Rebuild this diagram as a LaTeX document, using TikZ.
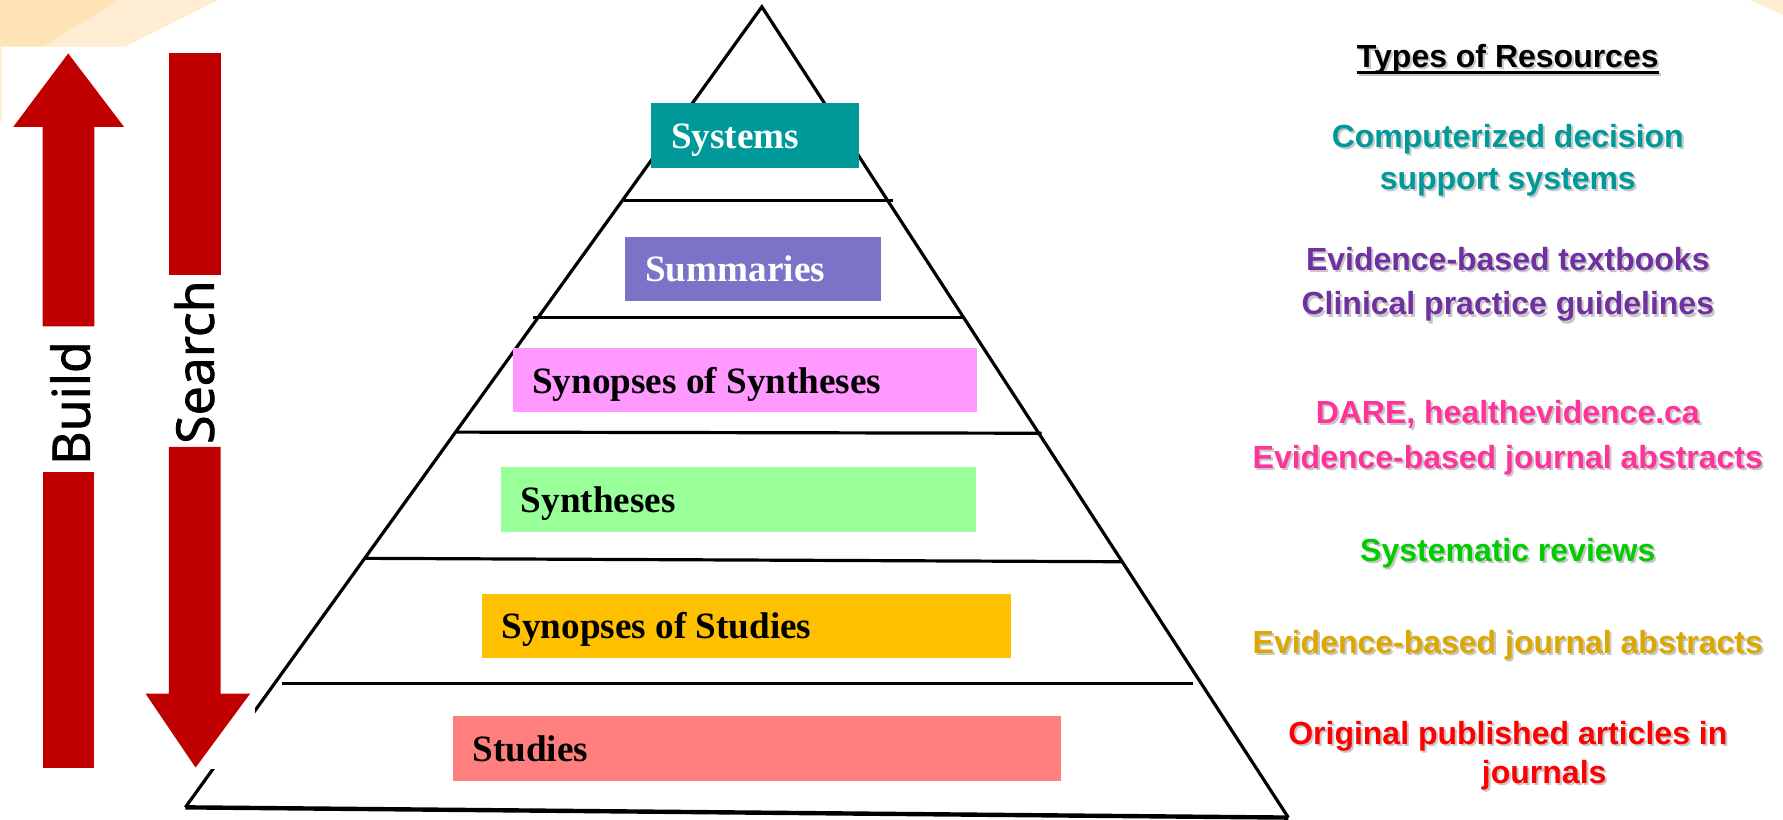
\documentclass[tikz,border=0pt]{standalone}
\usepackage{fontspec}
\setmainfont{Liberation Serif}
\newfontfamily\arialfont{Liberation Sans}
\newfontfamily\opensans[BoldFont={Open Sans}, BoldFeatures={FakeBold=1.6}]{Open Sans}
\usetikzlibrary{calc}
\definecolor{arrowred}{HTML}{C00000}
\definecolor{tabdark}{HTML}{FDE3B5}
\definecolor{tablight}{HTML}{FEEDD3}
\definecolor{syscol}{HTML}{009999}
\definecolor{summcol}{HTML}{7B73C8}
\definecolor{synsyncol}{HTML}{FF99FF}
\definecolor{synthcol}{HTML}{99FF99}
\definecolor{synstudcol}{HTML}{FFC000}
\definecolor{studcol}{HTML}{FF7F7F}
\definecolor{respurple}{HTML}{7030A0}
\definecolor{respink}{HTML}{FF3399}
\definecolor{resgreen}{HTML}{00CC00}
\definecolor{resgold}{HTML}{DCA800}
\newcommand{\reslabel}[5]{%
	\node[res, text=black!22] (#1s) at ({#2+1.8},{#3+1.8}) {#5};
	\node[res, text=#4] (#1) at (#2,#3) {#5};
}
\begin{document}
\begin{tikzpicture}[x=0.01cm, y=-0.01cm, thick,
		tier/.style={anchor=north west, inner sep=0, outer sep=0, minimum height=0.565cm},
		tiertext/.style={anchor=base west, inner sep=0, outer sep=0, font=\bfseries\fontsize{9.3}{11}\selectfont},
		res/.style={anchor=base, inner sep=0, outer sep=0, font=\arialfont\bfseries\fontsize{8}{9.6}\selectfont},
		arrowword/.style={rotate=90, anchor=base, inner sep=0, outer sep=0, font=\opensans\bfseries\fontsize{13}{15}\selectfont},
		redarrow/.style={fill=arrowred, draw=none}
		]
	\path[fill=white] (0,0) rectangle (1568,721);
	\fill[tabdark] (0,0) -- (105.5,0) -- (38,41) -- (0,41) -- cycle;
	\fill[tablight] (38,41) -- (110,41) -- (192,0) -- (105.5,0) -- cycle;
	\fill[tablight] (0,41) rectangle (1.8,106);
	\fill[tablight] (1539,0) -- (1568,0) -- (1568,13) -- cycle;

	\coordinate (apex) at (670,6);
	\coordinate (bl) at (163,710);
	\coordinate (br) at (1133,719);
	\draw (bl) -- (apex) -- (br);
	\draw[line width=1.1pt] (bl) -- (br);
	\draw (549,176) -- (785,176);
	\draw (469,279) -- (847,279);
	\draw (401,380) -- (916,381);
	\draw (320,491) -- (987,494);
	\draw (248,601) -- (1049,601);

	\node[tier, fill=syscol, minimum width=1.829cm] (sys) at (572.6,91) {};
	\node[tier, fill=summcol, minimum width=2.25cm] (summ) at (550,208) {};
	\node[tier, fill=synsyncol, minimum width=4.08cm] (synsyn) at (451,306) {};
	\node[tier, fill=synthcol, minimum width=4.17cm] (synth) at (441,411) {};
	\node[tier, fill=synstudcol, minimum width=4.65cm] (synstud) at (424,522) {};
	\node[tier, fill=studcol, minimum width=5.35cm] (stud) at (398,630) {};
	\node[tiertext, text=white] (syst) at ($(sys.west)+(17.5,11.5)$) {Systems};
	\node[tiertext, text=white] (summt) at ($(summ.west)+(17.5,11.5)$) {Summaries};
	\node[tiertext] (synsynt) at ($(synsyn.west)+(17,11.5)$) {Synopses of Syntheses};
	\node[tiertext] (syntht) at ($(synth.west)+(17,11.5)$) {Syntheses};
	\node[tiertext] (synstudt) at ($(synstud.west)+(17,11.5)$) {Synopses of Studies};
	\node[tiertext] (studt) at ($(stud.west)+(17.5,11.5)$) {Studies};

	\fill[white] (125,44) rectangle (224,676);
	\fill[redarrow] (37.5,287) -- (37.5,111.5) -- (11.7,111.5) -- (60,47) -- (109,111.5) -- (83,111.5) -- (83,287) -- cycle;
	\fill[redarrow] (37.5,415) rectangle (83,675);
	\node[arrowword] (build) at (79,354.5) {Build};
	\fill[redarrow] (148.6,47) rectangle (194,242);
	\fill[redarrow] (148.6,393) -- (148.6,610) -- (128,610) -- (172,675) -- (220,610) -- (194,610) -- (194,393) -- cycle;
	\node[arrowword] (search) at (188,318.5) {Search};

	\reslabel{tor}{1326}{59}{black}{Types of Resources}
	\draw[black!22, line width=0.65pt] ($(tors.base west)+(0,4.5)$) -- ($(tors.base east)+(0,4.5)$);
	\draw[line width=0.65pt] ($(tor.base west)+(0,4.5)$) -- ($(tor.base east)+(0,4.5)$);
	\reslabel{cdsa}{1326}{130}{syscol}{Computerized decision}
	\reslabel{cdsb}{1326}{167}{syscol}{support systems}
	\reslabel{ebt}{1326}{237.5}{respurple}{Evidence-based textbooks}
	\reslabel{cpg}{1326}{277}{respurple}{Clinical practice guidelines}
	\reslabel{dare}{1326}{372}{respink}{DARE, healthevidence.ca}
	\reslabel{ebja}{1326}{412}{respink}{Evidence-based journal abstracts}
	\reslabel{sr}{1326}{494}{resgreen}{Systematic reviews}
	\reslabel{ebjb}{1326}{574.5}{resgold}{Evidence-based journal abstracts}
	\reslabel{opa}{1326}{655}{red}{Original published articles in}
	\reslabel{jour}{1358}{689}{red}{journals}
\end{tikzpicture}
\end{document}
